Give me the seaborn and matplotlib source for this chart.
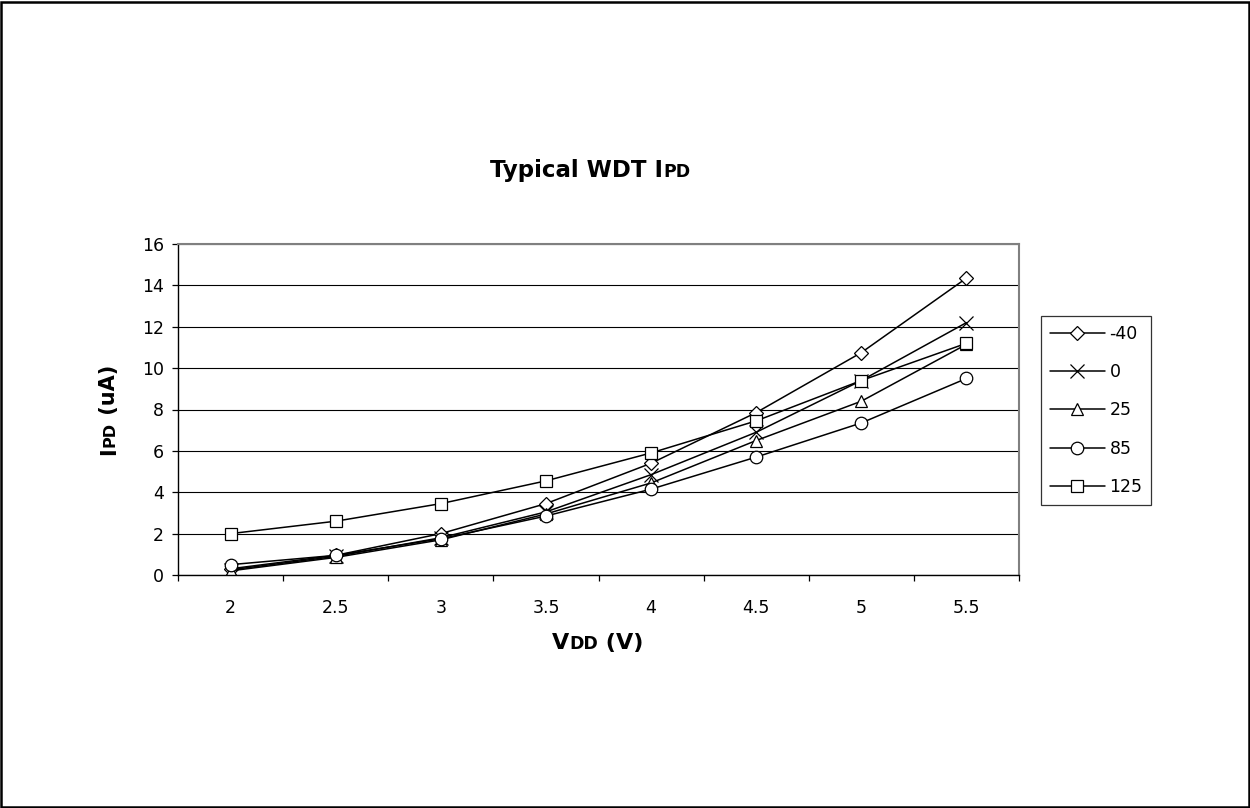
import numpy as np
import pandas as pd
import matplotlib
matplotlib.use("Agg")
import matplotlib.pyplot as plt
from matplotlib.patches import Rectangle
import seaborn as sns

# data
VDD = ["2", "2.5", "3", "3.5", "4", "4.5", "5", "5.5"]
TEMPS = ["-40", "0", "25", "85", "125"]
ipd_m40 = [0.30, 0.95, 2.00, 3.45, 5.40, 7.85, 10.75, 14.35]
ipd_0 = [0.25, 0.90, 1.80, 3.05, 4.85, 6.90, 9.40, 12.20]
ipd_25 = [0.20, 0.85, 1.70, 2.95, 4.45, 6.50, 8.40, 11.15]
ipd_85 = [0.50, 0.95, 1.75, 2.85, 4.15, 5.70, 7.35, 9.50]
ipd_125 = [2.00, 2.60, 3.45, 4.55, 5.90, 7.45, 9.40, 11.20]
MARKERS = ["D", "x", "^", "o", "s"]
MSIZE = {"D": 7.5, "x": 10, "^": 9, "o": 9, "s": 8.5}

series = [ipd_m40, ipd_0, ipd_25, ipd_85, ipd_125]

sns.set_theme(style="white")
plt.rcParams["font.family"] = ["DejaVu Sans"]
plt.rcParams.update({"text.color": "black", "axes.labelcolor": "black",
                     "xtick.color": "black", "ytick.color": "black"})

W, H = 1250, 808
fig = plt.figure(figsize=(W / 100, H / 100), dpi=100, facecolor="white")
ax = fig.add_axes([178 / W, 1 - 575 / H, (1019 - 178) / W, (575 - 244) / H])

for temp, vals, m in zip(TEMPS, series, MARKERS):
    sub = pd.DataFrame({"pos": np.arange(len(VDD)), "ipd": vals})
    sns.lineplot(data=sub, x="pos", y="ipd", marker=m, color="black",
                 linewidth=1.1, markersize=MSIZE[m], markerfacecolor="white",
                 markeredgecolor="black", markeredgewidth=0.9, ax=ax,
                 label=temp, legend=False)

ax.set_xlim(-0.5, len(VDD) - 0.5)
ax.set_ylim(0, 16)
ax.set_yticks(np.arange(0, 17, 2))
ax.yaxis.grid(True, color="black", linewidth=0.8)
ax.set_axisbelow(True)
ax.set_xticks(np.arange(len(VDD)))
ax.set_xticklabels(VDD)
ax.set_xticks(np.arange(len(VDD) + 1) - 0.5, minor=True)
ax.tick_params(axis="x", which="major", length=0, pad=17, labelsize=12.5)
ax.tick_params(axis="x", which="minor", length=4, width=0.9, color="black",
               direction="out", bottom=True)
ax.tick_params(axis="y", length=4, width=0.9, color="black", direction="out",
               left=True, pad=6, labelsize=12.5)
ax.set_xlabel("")
ax.set_ylabel("")
for side in ["left", "bottom"]:
    ax.spines[side].set_color("black")
    ax.spines[side].set_linewidth(1.0)
for side in ["top", "right"]:
    ax.spines[side].set_color("#808080")
    ax.spines[side].set_linewidth(1.5)

leg = fig.legend(handles=ax.lines[:5], labels=TEMPS, loc="upper left",
                 bbox_to_anchor=(1041 / W, 1 - 316 / H), frameon=True,
                 fancybox=False, shadow=False, fontsize=12.5, handlelength=3.2,
                 labelspacing=1.17, handletextpad=0.25, borderpad=0.5,
                 borderaxespad=0)
leg.get_frame().set_edgecolor("black")
leg.get_frame().set_linewidth(0.9)

# text with smaller "subscript-like" parts on the same baseline
renderer = fig.canvas.get_renderer()


def mixed_text(parts, xc, yb, rotation=0):
    # parts: list of (text, size); xc is center along the text, yb is baseline (pixels)
    arts = []
    for txt, size in parts:
        t = fig.text(0, 0, txt, fontsize=size, fontweight="bold", ha="left",
                     va="baseline", rotation=rotation, rotation_mode="anchor")
        arts.append(t)
    lens = []
    for t in arts:
        bb = t.get_window_extent(renderer)
        lens.append(bb.height if rotation else bb.width)
    total = sum(lens)
    pos = -total / 2
    for t, L in zip(arts, lens):
        if rotation:
            t.set_position((yb / W, 1 - xc / H + pos / H))
        else:
            t.set_position((xc / W + pos / W, 1 - yb / H))
        pos += L


mixed_text([("Typical WDT I", 16.5), ("PD", 12.5)], 590, 177)
mixed_text([("V", 16), ("DD", 12.5), (" (V)", 16)], 598, 649)
mixed_text([("I", 15), ("PD", 11.5), (" (uA)", 15)], 410, 115, rotation=90)

fig.add_artist(Rectangle((1.5 / W, 1.5 / H), 1 - 3 / W, 1 - 3 / H,
                         transform=fig.transFigure, fill=False,
                         edgecolor="black", linewidth=1.8))

fig.savefig("out.png", dpi=100, facecolor="white")
